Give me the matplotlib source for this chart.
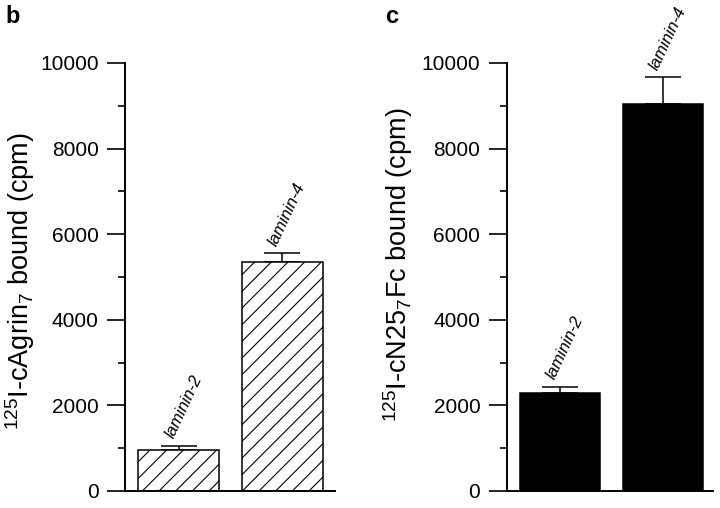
import numpy as np
import matplotlib
matplotlib.use('Agg')
import matplotlib.pyplot as plt

plt.rcParams['font.family'] = ['Liberation Sans', 'DejaVu Sans']
plt.rcParams['mathtext.fontset'] = 'custom'
plt.rcParams['mathtext.rm'] = 'Liberation Sans'
plt.rcParams['mathtext.it'] = 'Liberation Sans:italic'
plt.rcParams['hatch.linewidth'] = 0.8

# data
labels = ['laminin-2', 'laminin-4']
agrin_vals = [960, 5340]
agrin_err = [95, 210]
n25_vals = [2285, 9050]
n25_err = [155, 615]
yticks = [0, 2000, 4000, 6000, 8000, 10000]


def panel(ax, vals, errs, ylabel, hatched, xlim):
    x = np.arange(len(vals))
    if hatched:
        ax.bar(x, vals, width=0.78, color='white', edgecolor='black',
               linewidth=1.1, hatch='//', zorder=2)
    else:
        ax.bar(x, vals, width=0.78, color='black', edgecolor='black',
               linewidth=1.1, zorder=2)
    # only the upper half of the error bar
    ax.errorbar(x, vals, yerr=[np.zeros(len(errs)), errs], fmt='none',
                ecolor='black', elinewidth=1.1, capsize=13, capthick=1.1,
                zorder=1)
    for i, lab in enumerate(labels):
        ax.text(i - 0.05, vals[i] + errs[i] + 150, lab, rotation=65,
                rotation_mode='anchor', ha='left', va='baseline',
                fontsize=12, style='italic')

    ax.set_xlim(*xlim)
    ax.set_ylim(0, 10000)
    ax.set_yticks(yticks)
    ax.set_yticks(np.arange(1000, 10000, 2000), minor=True)
    ax.set_xticks([])
    ax.tick_params(axis='y', which='major', length=13, width=1.2,
                   pad=6, labelsize=15)
    ax.tick_params(axis='y', which='minor', length=5, width=1.2)
    for s in ['top', 'right']:
        ax.spines[s].set_visible(False)
    for s in ['left', 'bottom']:
        ax.spines[s].set_linewidth(1.4)
    ax.set_ylabel(ylabel, fontsize=19.5)


fig = plt.figure(figsize=(7.2, 5.08), dpi=100)
ax1 = fig.add_axes([0.1736, 0.0335, 0.2917, 0.8425])
ax2 = fig.add_axes([0.7037, 0.0335, 0.2865, 0.8425])

panel(ax1, agrin_vals, agrin_err, r'$^{125}$I-cAgrin$_7$ bound (cpm)', True, (-0.52, 1.51))
panel(ax2, n25_vals, n25_err, r'$^{125}$I-cN25$_7$Fc bound (cpm)', False, (-0.52, 1.49))

ax1.yaxis.set_label_coords(-0.42, 0.49)
ax2.yaxis.set_label_coords(-0.444, 0.528)

fig.text(5 / 720, 1 - 23 / 508, 'b', fontsize=17, fontweight='bold')
fig.text(385 / 720, 1 - 23 / 508, 'c', fontsize=17, fontweight='bold')

fig.savefig('out.png', dpi=100)
